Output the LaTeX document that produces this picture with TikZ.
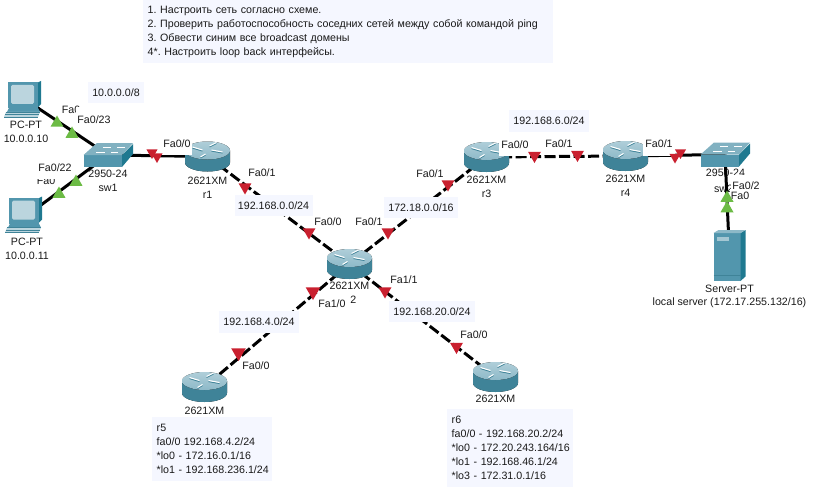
\documentclass[tikz,border=0pt]{standalone}
\usepackage{fontspec}
\setmainfont{Liberation Sans}
\usetikzlibrary{backgrounds,shapes.geometric}
\definecolor{notebg}{HTML}{F5F7FF}
\definecolor{markred}{HTML}{C9202F}
\definecolor{markgreen}{HTML}{6CBB45}
\definecolor{tealdark}{HTML}{3F8398}
\definecolor{tealmid}{HTML}{5296AD}
\definecolor{teallight}{HTML}{8DB9C8}
\definecolor{tealside}{HTML}{1F7990}
\frenchspacing
\tikzset{
  routericon/.style={minimum width=46pt,minimum height=32pt,inner sep=0pt,path picture={
    \begin{scope}[shift={(path picture bounding box.center)}]
      \fill[left color=tealdark,middle color=white,right color=tealdark] (-22.5,-6) -- (-22.5,6) arc[start angle=180,end angle=360,x radius=22.5pt,y radius=9pt] -- (22.5,-6) -- cycle;
      \fill[top color=teallight!70!white,bottom color=teallight] (0,-6) ellipse[x radius=22.5pt,y radius=9pt];
      \draw[line width=1.1pt,tealdark] (-15,-8.5) -- (-5,-5.5) (-2,-1.5) -- (-7,1.5) (15,-3.5) -- (4,-5.5) (2,-9.5) -- (9,-13);
      \draw[line width=1.1pt,white] (-15,-9.5) -- (-5,-6.5) (-2,-2.5) -- (-7,.5) (15,-4.5) -- (4,-6.5) (2,-10.5) -- (9,-14);
    \end{scope}}},
  switchicon/.style={minimum width=50pt,minimum height=24pt,inner sep=0pt,path picture={
    \begin{scope}[shift={(path picture bounding box.center)}]
      \fill[tealmid] (-24.5,0) rectangle (14,12);
      \fill[tealside] (14,0) -- (25,-11) -- (25,-1) -- (14,12) -- cycle;
      \fill[teallight!85!tealdark] (-24.5,0) -- (-11,-12) -- (25,-12) -- (14,0) -- cycle;
      \draw[line width=.7pt,white] (-12,-3) -- (-3,-3) (-5,-8) -- (3,-8) (3,-3) -- (10,-3) (9,-8) -- (17,-8);
    \end{scope}}},
  pcicon/.style={minimum width=44pt,minimum height=38pt,inner sep=0pt,path picture={
    \begin{scope}[shift={(path picture bounding box.center)}]
      \fill[tealside] (11,-17) -- (15,-19) -- (15,4) -- (11,8) -- cycle;
      \fill[tealmid] (-18,-18) rectangle (12,8);
      \fill[teallight!60!white,rounded corners=1.5pt] (-15,-15) rectangle (8,4);
      \fill[tealmid] (-17,8) -- (12,8) -- (14,12) -- (-19,12) -- cycle;
      \fill[teallight!60!white] (-20,12) -- (14,12) -- (12,17) -- (-22,17) -- cycle;
      \draw[tealdark,line width=.5pt] (-20,12) -- (14,12) (-21,14.5) -- (13,14.5) (-22,17) -- (12,17);
    \end{scope}}},
  servericon/.style={minimum width=34pt,minimum height=52pt,inner sep=0pt,path picture={
    \begin{scope}[shift={(path picture bounding box.center)}]
      \fill[tealmid] (-16,-22.5) rectangle (11,25.5);
      \fill[tealside] (11,-22.5) -- (16,-25.5) -- (16,21) -- (11,25.5) -- cycle;
      \fill[teallight] (-16,-22.5) -- (-11,-25.5) -- (16,-25.5) -- (11,-22.5) -- cycle;
      \fill[teallight!80!white] (-13,-18.5) rectangle (-1,-14.5);
      \draw[tealdark,line width=.5pt] (-16,20) -- (11,20);
    \end{scope}}},
  devtext/.style={inner sep=0pt},
  iflabel/.style={fill=white,inner xsep=1pt,inner ysep=0pt,minimum height=15pt},
  netlabel/.style={fill=notebg,inner sep=0pt,minimum height=21.5pt},
  notebox/.style={fill=notebg,anchor=north west,align=left,inner xsep=4.5pt,inner ysep=3.5pt},
  solidlink/.style={line width=3pt},
  dashlink/.style={line width=3pt,dash pattern=on 11pt off 3.5pt},
  redmark/.style={regular polygon,regular polygon sides=3,shape border rotate=180,fill=markred,inner sep=0pt,minimum size=15pt},
  greenmark/.style={regular polygon,regular polygon sides=3,fill=markgreen,inner sep=0pt,minimum size=15pt}
}
\begin{document}
\begin{tikzpicture}[x=1pt,y=-1pt,font=\fontsize{10.67pt}{14pt}\selectfont,text=black!90]
    \useasboundingbox (0,0) rectangle (816,492);

    \node[pcicon] (pc1) at (26,100) {};
    \node[pcicon] (pc2) at (27,215.5) {};
    \node[switchicon] (sw1) at (108,155) {};
    \node[switchicon] (sw2) at (725,154.5) {};
    \node[servericon] (srv) at (729.5,255.5) {};
    \node[routericon] (r1) at (207.5,156.5) {};
    \node[routericon] (r2) at (349.5,264) {};
    \node[routericon] (r3) at (486.5,157) {};
    \node[routericon] (r4) at (625.5,156) {};
    \node[routericon] (r5) at (204.5,387) {};
    \node[routericon] (r6) at (495.5,377) {};

    \begin{scope}[on background layer]
        \node[devtext] (sw2m) at (725.5,173) {2950-24};
        \node[devtext] (sw2n) at (723.5,189) {sw2};
        \path[solidlink] (pc1.center) edge (sw1.center)
              (pc2.center) edge (sw1.center)
              (sw1.center) edge (r1.center)
              (r4.center) edge (sw2.center)
              (sw2.center) edge (srv.center);
        \path[dashlink] (r1.center) edge (r2.center)
              (r3.center) edge (r2.center)
              (r3.center) edge (r4.center)
              (r2.center) edge (r5.center)
              (r2.center) edge (r6.center);
    \end{scope}

    \node[devtext] (pc1m) [below of=pc1,node distance=25pt] {PC-PT};
    \node[devtext] (pc1n) [below of=pc1m,node distance=14pt] {10.0.0.10};
    \node[devtext] (pc2m) [below of=pc2,node distance=26.5pt] {PC-PT};
    \node[devtext] (pc2n) [below of=pc2m,node distance=14pt] {10.0.0.11};
    \node[devtext] (sw1m) [below of=sw1,node distance=19pt] {2950-24};
    \node[devtext] (sw1n) [below of=sw1m,node distance=14pt] {sw1};
    \node[devtext] (r1m) [below of=r1,node distance=24.5pt] {2621XM};
    \node[devtext] (r1n) [below of=r1m,node distance=13.5pt] {r1};
    \node[devtext] (r2m) [below of=r2,node distance=22pt] {2621XM};
    \node[devtext,xshift=2pt] (r2n) [below of=r2m,node distance=14pt] {r2};
    \node[devtext] (r3m) [below of=r3,node distance=23pt] {2621XM};
    \node[devtext] (r3n) [below of=r3m,node distance=14pt] {r3};
    \node[devtext] (r4m) [below of=r4,node distance=23pt] {2621XM};
    \node[devtext] (r4n) [below of=r4m,node distance=14pt] {r4};
    \node[devtext] (r5m) [below of=r5,node distance=24pt] {2621XM};
    \node[devtext] (r6m) [below of=r6,node distance=22pt] {2621XM};
    \node[devtext] (srvm) [below of=srv,node distance=33.5pt] {Server-PT};
    \node[devtext] (srvn) [below of=srvm,node distance=14pt] {local server (172.17.255.132/16)};

    \node[iflabel] (pc1if) at (71,109.5) {Fa0};
    \node[iflabel,minimum height=25pt] (sw1a) at (94,119.5) {Fa0/23};
    \node[iflabel] (pc2if) at (46,180.5) {Fa0};
    \node[iflabel,minimum height=21pt] (sw1b) at (55,168) {Fa0/22};
    \node[iflabel,minimum height=22pt] (sw1c) at (177,144) {Fa0/0};
    \node[iflabel] (r1b) at (262,173) {Fa0/1};
    \node[iflabel] (r2a) at (328,222) {Fa0/0};
    \node[iflabel] (r2b) at (369,222) {Fa0/1};
    \node[iflabel] (r3a) at (430,174) {Fa0/1};
    \node[iflabel,minimum height=23pt,minimum width=32pt] (r3b) at (515,144.5) {Fa0/0};
    \node[iflabel] (r4a) at (559,144) {Fa0/1};
    \node[iflabel,minimum height=24pt,minimum width=32pt] (r4b) at (659,144) {Fa0/1};
    \node[iflabel,minimum height=0pt] (sw2a) at (746,182.25) {\rule[-1pt]{0pt}{15.5pt}Fa0/2};
    \node[iflabel,minimum height=13pt] (srva) at (740,195.5) {Fa0};
    \node[iflabel,minimum width=36pt] (r2c) at (332,304) {Fa1/0\hspace{4pt}};
    \node[iflabel] (r2d) at (404,280) {Fa1/1};
    \node[iflabel] (r5a) at (256,366) {Fa0/0};
    \node[iflabel] (r6a) at (474,335) {Fa0/0};

    \node[greenmark] (mk1) at (57,123) {};
    \node[greenmark] (mk2) at (72,134) {};
    \node[greenmark] (mk3) at (59,194) {};
    \node[greenmark] (mk4) at (76,182) {};
    \node[greenmark] (mk5) at (727,198) {};
    \node[greenmark] (mk6) at (727,208.5) {};
    \node[redmark,minimum size=13pt] (mk7) at (152,152.5) {};
    \node[redmark,minimum size=13pt] (mk8) at (157,156.5) {};
    \node[redmark] (mk9) at (245,187) {};
    \node[redmark] (mk10) at (309,232) {};
    \node[redmark] (mk11) at (388,232) {};
    \node[redmark] (mk12) at (448,184) {};
    \node[redmark] (mk13) at (534.5,155.5) {};
    \node[redmark] (mk14) at (577.5,154.5) {};
    \node[redmark,minimum size=13pt] (mk15) at (675,157) {};
    \node[redmark,minimum size=13pt] (mk16) at (680.5,152.5) {};
    \node[redmark,minimum size=17pt] (mk17) at (313,291.5) {};
    \node[redmark,minimum size=17pt] (mk18) at (238.5,352.5) {};
    \node[redmark] (mk19) at (385,291) {};
    \node[redmark] (mk20) at (456.5,346.5) {};

    \node[netlabel,minimum width=56pt] (net1) at (116,92.5) {10.0.0.0/8};
    \node[netlabel,minimum width=78pt] (net2) at (273.5,205.5) {192.168.0.0/24};
    \node[netlabel,minimum width=74pt] (net3) at (421,207.5) {172.18.0.0/16};
    \node[netlabel,minimum width=80pt] (net4) at (549,121) {192.168.6.0/24};
    \node[netlabel,minimum width=86pt] (net5) at (432,311.5) {192.168.20.0/24};
    \node[netlabel,minimum width=80pt] (net6) at (259,322) {192.168.4.0/24};

    \node[notebox,minimum width=410pt,minimum height=63pt,text width=401pt] (tasks) at (143,0) {1. Настроить сеть согласно схеме.\\2. Проверить работоспособность соседних сетей между собой командой ping\\3. Обвести синим все broadcast домены\\4*. Настроить loop back интерфейсы.};
    \node[notebox,minimum width=120pt,minimum height=64pt,text width=111pt] (r5cfg) at (152,417) {r5\\fa0/0 192.168.4.2/24\\\mbox{*lo0 - 172.16.0.1/16}\\\mbox{*lo1 - 192.168.236.1/24}};
    \node[notebox,minimum width=126pt,minimum height=78pt,text width=117pt] (r6cfg) at (447,409) {r6\\fa0/0 - 192.168.20.2/24\\\mbox{*lo0 - 172.20.243.164/16}\\\mbox{*lo1 - 192.168.46.1/24}\\\mbox{*lo3 - 172.31.0.1/16}};
\end{tikzpicture}
\end{document}
